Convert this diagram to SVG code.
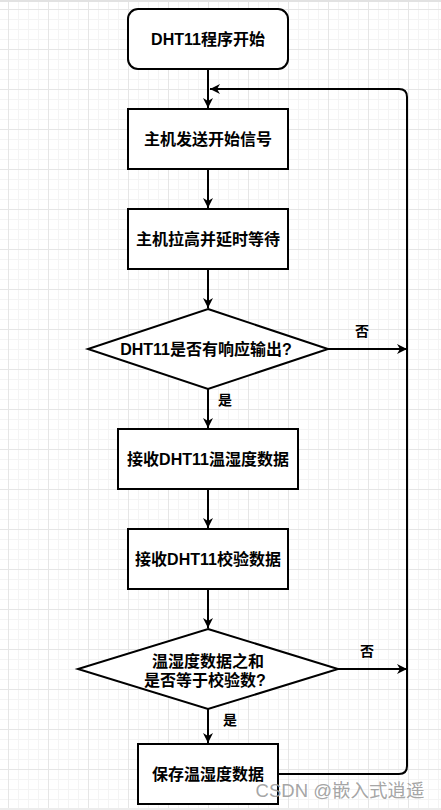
<svg xmlns="http://www.w3.org/2000/svg" width="441" height="810" viewBox="0 0 441 810">
<defs>
<pattern id="minor" x="8" y="9" width="10" height="10" patternUnits="userSpaceOnUse">
<path d="M0.5,0 V10 M0,0.5 H10" fill="none" stroke="#f4f4f4" stroke-width="1"/>
</pattern>
<pattern id="major" x="8" y="9" width="40" height="40" patternUnits="userSpaceOnUse">
<path d="M0.5,0 V40 M0,0.5 H40" fill="none" stroke="#e6e6e6" stroke-width="1"/>
</pattern>
<marker id="arr" viewBox="0 0 10 10" refX="10" refY="5" markerWidth="10" markerHeight="10" markerUnits="userSpaceOnUse" orient="auto">
<path d="M0,0 L10,5 L0,10 L3,5 z" fill="#000"/>
</marker>
<style>
.n{fill:#fff;stroke:#000;stroke-width:2}
.t{font-family:"Liberation Sans","Noto Sans CJK SC",sans-serif;font-weight:bold;font-size:16px;fill:#000;text-anchor:middle;dominant-baseline:central}
.l{font-family:"Liberation Sans","Noto Sans CJK SC",sans-serif;font-weight:bold;font-size:14px;fill:#000;text-anchor:middle;dominant-baseline:central}
.c{fill:none;stroke:#000;stroke-width:2}
</style>
</defs>
<rect width="441" height="810" fill="#fff"/>
<rect width="441" height="810" fill="url(#minor)"/>
<rect width="441" height="810" fill="url(#major)"/>
<rect x="0" y="0" width="441" height="2" fill="#e2e2e2"/>
<rect x="0" y="808" width="441" height="2" fill="#ececec"/>

<g id="connectors">
<path class="c" d="M208,69 V108" marker-end="url(#arr)"/>
<path class="c" d="M208,169 V208" marker-end="url(#arr)"/>
<path class="c" d="M208,269 V308" marker-end="url(#arr)"/>
<path class="c" d="M208,389 V428" marker-end="url(#arr)"/>
<path class="c" d="M208,489 V528" marker-end="url(#arr)"/>
<path class="c" d="M208,589 V628" marker-end="url(#arr)"/>
<path class="c" d="M208,709 V743" marker-end="url(#arr)"/>
<path class="c" d="M328,349 H407" marker-end="url(#arr)"/>
<path class="c" d="M338,669 H407" marker-end="url(#arr)"/>
<path class="c" d="M278,774 H399 Q407,774 407,766 V97 Q407,89 399,89 H210" marker-end="url(#arr)"/>
<text class="l" x="362" y="331">否</text>
<text class="l" x="225" y="400">是</text>
<text class="l" x="367" y="651">否</text>
<text class="l" x="230" y="720">是</text>
</g>

<g id="start">
<rect class="n" x="128" y="9" width="160" height="60" rx="10"/>
<text class="t" x="208" y="39">DHT11程序开始</text>
</g>
<g id="send">
<rect class="n" x="128" y="109" width="160" height="60"/>
<text class="t" x="208" y="139">主机发送开始信号</text>
</g>
<g id="pullup">
<rect class="n" x="128" y="209" width="160" height="60"/>
<text class="t" x="208" y="239">主机拉高并延时等待</text>
</g>
<g id="respond">
<polygon class="n" points="208,309 328,349 208,389 88,349"/>
<text class="t" x="206" y="349">DHT11是否有响应输出?</text>
</g>
<g id="recvdata">
<rect class="n" x="118" y="429" width="180" height="60"/>
<text class="t" x="208" y="459">接收DHT11温湿度数据</text>
</g>
<g id="recvcheck">
<rect class="n" x="128" y="529" width="160" height="60"/>
<text class="t" x="208" y="559">接收DHT11校验数据</text>
</g>
<g id="check">
<polygon class="n" points="208,629 338,669 208,709 78,669"/>
<text class="t" x="208" y="661">温湿度数据之和</text>
<text class="t" x="205" y="680">是否等于校验数?</text>
</g>
<g id="save">
<rect class="n" x="138" y="744" width="140" height="60"/>
<text class="t" x="208" y="774">保存温湿度数据</text>
</g>
<text x="340" y="797" font-family="Liberation Sans,'Noto Sans CJK SC',sans-serif" font-size="18.5" fill="#9a9a9a" fill-opacity="0.9" text-anchor="middle">CSDN @嵌入式逍遥</text>
</svg>
